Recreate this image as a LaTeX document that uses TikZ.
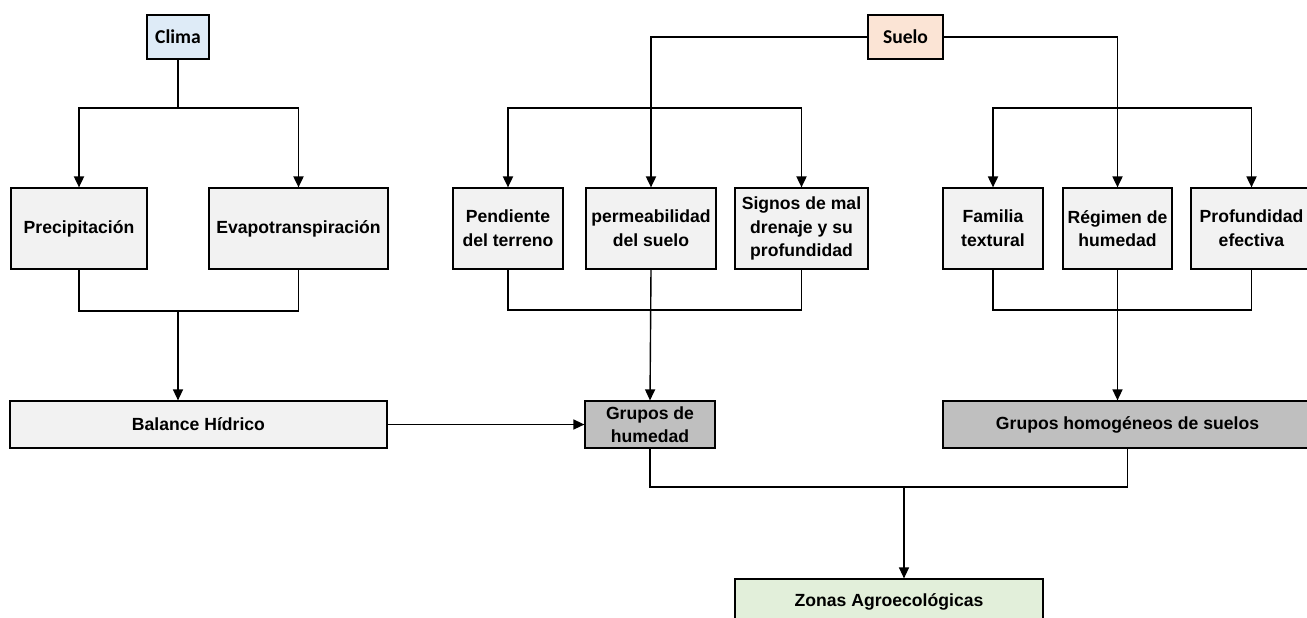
\documentclass[tikz,border=0pt]{standalone}
\usepackage{fontspec}
\setmainfont{Liberation Sans}
\newfontfamily\calfont{Carlito}
\usetikzlibrary{arrows.meta}

\definecolor{climablue}{HTML}{DEEBF7}
\definecolor{suelopeach}{HTML}{FBE4D5}
\definecolor{boxgrey}{HTML}{F2F2F2}
\definecolor{grupogrey}{HTML}{BFBFBF}
\definecolor{zonagreen}{HTML}{E2EFDA}

\begin{document}
\begin{tikzpicture}[x=0.5pt, y=-0.5pt, >={Triangle[length=5.5pt,width=5pt]},
    box/.style={draw, line width=0.6pt, fill=boxgrey, align=center, inner sep=1pt,
        font=\fontsize{8.8}{11.8}\selectfont\bfseries},
    top/.style={box, font=\fontsize{9.8}{11}\selectfont\calfont\bfseries},
    branch/.style={line width=0.9pt},
    link/.style={line width=0.7pt}]

        \clip (0,0) rectangle (1307,617);

        % Top sources
        \node[top, fill=climablue, minimum width=31pt, minimum height=22pt] (clima) at (178,37) {Clima};
        \node[top, fill=suelopeach, minimum width=37.5pt, minimum height=22pt] (suelo) at (905.5,37) {Suelo};

        % Factors
        \node[box, minimum width=68pt, minimum height=40.5pt] (prec) at (79,228.5) {Precipitación};
        \node[box, minimum width=89.5pt, minimum height=40.5pt] (evap) at (298.5,228.5) {Evapotranspiración};
        \node[box, minimum width=55pt, minimum height=40.5pt] (pend) at (508,228.5) {Pendiente\\del terreno};
        \node[box, minimum width=65pt, minimum height=40.5pt] (perm) at (651,228.5) {permeabilidad\\del suelo};
        \node[box, minimum width=66.5pt, minimum height=40.5pt] (signos) at (801.5,228.5) {Signos de mal\\drenaje y su\\profundidad};
        \node[box, minimum width=50pt, minimum height=40.5pt] (fam) at (993,228.5) {Familia\\textural};
        \node[box, minimum width=54.5pt, minimum height=40.5pt] (reg) at (1117.5,228.5) {Régimen de\\humedad};
        \node[box, minimum width=60.5pt, minimum height=40.5pt] (prof) at (1251.5,228.5) {Profundidad\\efectiva};

        % Results
        \node[box, minimum width=188.5pt, minimum height=23.5pt] (balance) at (198.5,424.5) {Balance Hídrico};
        \node[box, fill=grupogrey, minimum width=65pt, minimum height=23.5pt] (ghum) at (650,424.5) {Grupos de\\humedad};
        \node[box, fill=grupogrey, minimum width=184.5pt, minimum height=23.5pt] (ghom) at (1127.5,424.5) {Grupos homogéneos de suelos};
        \node[box, fill=zonagreen, minimum width=154pt, minimum height=23pt] (zonas) at (889,602) {Zonas Agroecológicas};

        % Branch points
        \coordinate (climabr) at (178,108);
        \coordinate (brL) at (651,108);
        \coordinate (brR) at (1117.5,108);
        \coordinate (climajoin) at (178,311);
        \coordinate (jL) at (651,310);
        \coordinate (jR) at (1117.5,310);
        \coordinate (jZ) at (904,487);

        % Clima
        \draw[branch] (clima.south) -- (climabr);
        \draw[branch, ->] (climabr) -| (prec.north);
        \draw[branch, ->] (climabr) -| (evap.north);
        \draw[link] (prec.south) |- (climajoin) -| (evap.south);
        \draw[link, ->] (climajoin) -- (climajoin |- balance.north);

        % Suelo
        \draw[branch, ->] (suelo.west) -| (perm.north);
        \draw[branch, ->] (suelo.east) -| (reg.north);
        \foreach \n in {pend,signos}
            \draw[branch, ->] (brL) -| (\n.north);
        \foreach \n in {fam,prof}
            \draw[branch, ->] (brR) -| (\n.north);

        % Joins below the factors
        \draw[link] (pend.south) |- (jL) -| (signos.south);
        \draw[link] (fam.south) |- (jR) -| (prof.south);
        \draw[link, ->] (perm.south) -- (ghum.north);
        \draw[link, ->] (reg.south) -- (reg.south |- ghom.north);
        \draw[link, ->] (balance.east) -- (ghum.west);

        % Zonas
        \draw[link] (ghum.south) |- (jZ) -| (ghom.south);
        \draw[link, ->] (jZ) -- (jZ |- zonas.north);
        \end{tikzpicture}
\end{document}
